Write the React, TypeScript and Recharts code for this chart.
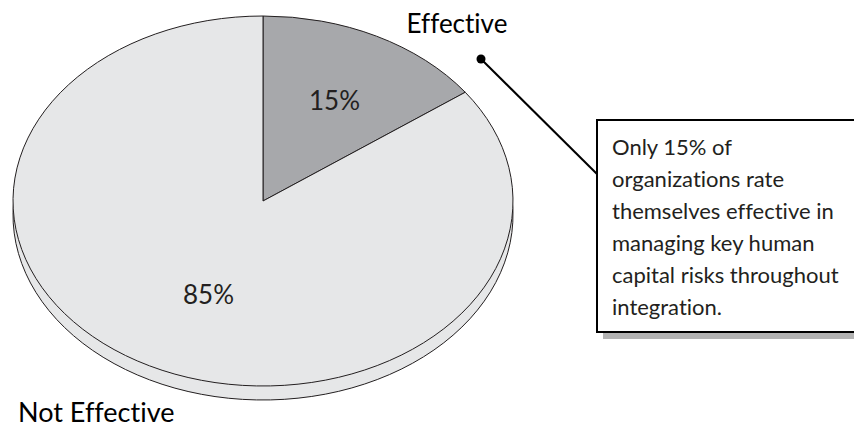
import React from 'react';
import { PieChart, Pie, Cell } from 'recharts';

const categories = ['Effective', 'Not Effective'];
const shares = [15, 85];
const percentLabels = ['15%', '85%'];
const noteLines = [
  'Only 15% of',
  'organizations rate',
  'themselves effective in',
  'managing key human',
  'capital risks throughout',
  'integration.',
];

const data = categories.map((name, i) => ({ name, value: shares[i], pct: percentLabels[i] }));

const W = 854;
const H = 427;
const CX = 263;
const CY = 201;
const RX = 250;
const RY = 185;
const DEPTH = 14;
const FILLS = ['#a7a8ab', '#e6e7e8'];
const STROKE = '#231f20';
const FONT = 'Lato, "Open Sans", sans-serif';

function ellipseSector(props: any) {
  const { cx, cy, outerRadius, startAngle, endAngle, fill } = props;
  const ky = RY / RX;
  const pt = (a: number) => {
    const r = (a * Math.PI) / 180;
    return [cx + outerRadius * Math.cos(r), cy - outerRadius * ky * Math.sin(r)];
  };
  const [x1, y1] = pt(startAngle);
  const [x2, y2] = pt(endAngle);
  const delta = endAngle - startAngle;
  const large = Math.abs(delta) > 180 ? 1 : 0;
  const sweep = delta < 0 ? 1 : 0;
  const d = `M${cx},${cy} L${x1},${y1} A${outerRadius},${outerRadius * ky} 0 ${large} ${sweep} ${x2},${y2} Z`;
  return <path d={d} fill={fill} stroke={STROKE} strokeWidth={1} strokeLinejoin="round" />;
}

const pctFx = [0.63, 0.48];
const pctFy = [0.61, 0.57];

function renderLabel(props: any) {
  const { cx, cy, midAngle, outerRadius, index, name, payload } = props;
  const ky = RY / RX;
  const r = (midAngle * Math.PI) / 180;
  const x = cx + outerRadius * pctFx[index] * Math.cos(r);
  const y = cy - outerRadius * ky * pctFy[index] * Math.sin(r);
  const nameX = index === 0 ? cx + 194 : 18;
  const nameY = index === 0 ? 33 : 422;
  return (
    <g>
      <text x={x} y={y} dy="0.36em" textAnchor="middle" fontFamily={FONT} fontSize={26} fill={STROKE}>
        {payload?.pct ?? ''}
      </text>
      <text
        x={nameX}
        y={nameY}
        textAnchor={index === 0 ? 'middle' : 'start'}
        fontFamily={FONT}
        fontSize={index === 0 ? 26 : 27}
        fill="#000"
        style={{ fontVariantLigatures: 'none' }}
      >
        {name}
      </text>
    </g>
  );
}

export default function App() {
  return (
    <div style={{ position: 'absolute', left: 0, top: 0, width: W, height: H, background: '#fff' }}>
      <PieChart width={W} height={H} margin={{ top: 0, right: 0, bottom: 0, left: 0 }}>
        <Pie
          data={data}
          dataKey="value"
          nameKey="name"
          cx={CX}
          cy={CY + DEPTH}
          outerRadius={RX}
          startAngle={90}
          endAngle={-270}
          isAnimationActive={false}
          shape={ellipseSector}
          activeShape={ellipseSector}
          inactiveShape={ellipseSector}
          label={false}
          labelLine={false}
        >
          {data.map((d, i) => (
            <Cell key={i} fill={FILLS[1]} />
          ))}
        </Pie>
        <Pie
          data={data}
          dataKey="value"
          nameKey="name"
          cx={CX}
          cy={CY}
          outerRadius={RX}
          startAngle={90}
          endAngle={-270}
          isAnimationActive={false}
          shape={ellipseSector}
          activeShape={ellipseSector}
          inactiveShape={ellipseSector}
          label={renderLabel}
          labelLine={false}
        >
          {data.map((d, i) => (
            <Cell key={i} fill={FILLS[i]} />
          ))}
        </Pie>
      </PieChart>
      <svg width={W} height={H} style={{ position: 'absolute', left: 0, top: 0, pointerEvents: 'none' }}>
        <circle cx={481} cy={59} r={4.5} fill="#000" />
        <line x1={481} y1={59} x2={597} y2={174} stroke="#000" strokeWidth={2} />
        <rect x={603} y={126} width={320} height={213} fill="#b3b3b3" />
        <rect x={597} y={120} width={320} height={212} fill="#fff" stroke="#000" strokeWidth={2} />
        {noteLines.map((t, i) => (
          <text
            key={i}
            x={612}
            y={155 + i * 32}
            fontFamily={FONT}
            fontSize={22}
            fill={STROKE}
            style={{ fontVariantLigatures: 'none' }}
          >
            {t}
          </text>
        ))}
      </svg>
    </div>
  );
}
